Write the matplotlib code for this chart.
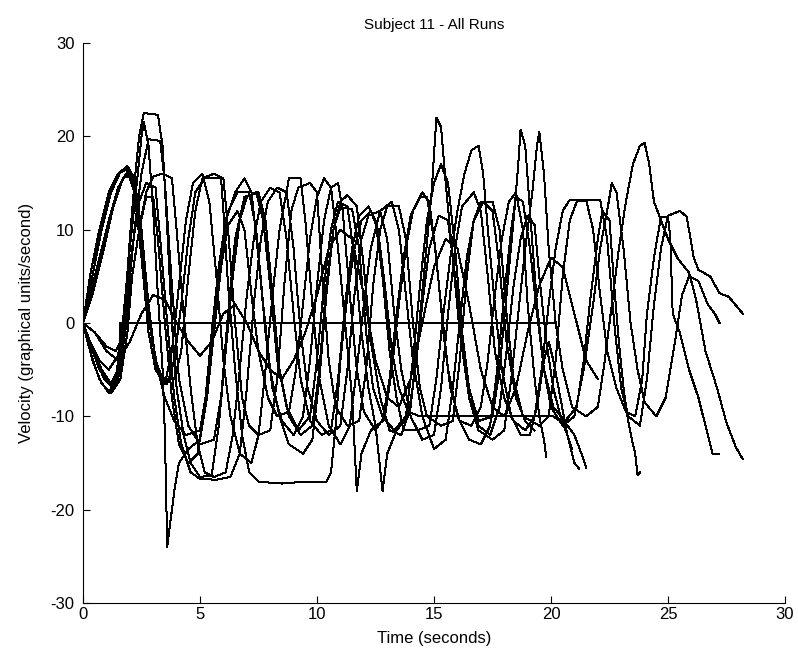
import matplotlib
matplotlib.use("Agg")
import matplotlib.pyplot as plt

# Velocity traces, one list of (time s, velocity) samples per run
run1 = [(0, 0), (0.3, 5), (0.7, 10), (1.1, 14), (1.5, 16), (1.9, 16.5), (2.2, 15), (2.5, 9), (2.8, 1),
        (3.1, -4), (3.4, -6), (3.9, -6), (4.2, -3), (4.5, 5), (4.8, 12), (5.1, 15.5), (5.6, 16), (6.0, 15.5),
        (6.2, 10), (6.5, 0), (6.8, -8), (7.1, -11), (7.5, -12), (8.0, -11.5), (8.3, -6), (8.6, 4), (8.9, 12),
        (9.2, 14.5), (9.7, 15), (10.0, 14), (10.2, 6), (10.5, -4), (10.8, -9), (11.3, -11), (11.8, -10.5),
        (12.1, -5), (12.4, 4), (12.7, 10), (13.0, 12.5), (13.5, 12.5), (13.8, 9), (14.1, 0), (14.4, -7),
        (14.7, -10), (15.3, -11), (15.8, -10.5), (16.1, -4), (16.4, 5), (16.7, 11), (17.0, 13), (17.5, 13),
        (17.8, 10), (18.1, 1), (18.4, -6), (18.8, -10), (19.5, -11), (19.9, -10), (20.2, -4), (20.5, 5),
        (20.8, 11), (21.1, 13), (21.6, 13.2), (22.1, 13.2), (22.4, 9), (22.7, 0), (23.0, -7), (23.3, -10),
        (23.8, -11), (24.1, -6), (24.4, 2), (24.7, 8), (25.0, 11.5), (25.5, 12), (25.8, 11.4), (26.1, 7),
        (26.3, 5.7), (26.8, 5), (27.2, 3.2), (27.6, 2.8), (28.2, 1)]

run2 = [(0, 0), (0.4, -3), (0.9, -6), (1.3, -7), (1.6, -5), (1.9, 2), (2.2, 10), (2.5, 16), (2.8, 19.7),
        (3.3, 19.5), (3.5, 15), (3.8, 4), (4.1, -6), (4.5, -11), (5.0, -13), (5.6, -12.5), (5.9, -8), (6.2, 1),
        (6.5, 9), (6.9, 13.5), (7.5, 14), (7.8, 11), (8.1, 3), (8.4, -5), (8.8, -10), (9.3, -12), (9.8, -11),
        (10.1, -5), (10.4, 4), (10.7, 10), (11.0, 12.4), (11.5, 12.2), (11.8, 8), (12.1, -1), (12.4, -7),
        (12.8, -10), (13.3, -11.5), (13.8, -10), (14.1, -4), (14.4, 4), (14.7, 11), (15.0, 15), (15.3, 17),
        (15.6, 15), (15.9, 8), (16.2, -1), (16.5, -7), (16.9, -10.5), (17.5, -10), (17.8, -5), (18.1, 3),
        (18.4, 11), (18.6, 17), (18.7, 20.7), (18.9, 19), (19.1, 12), (19.4, 2), (19.7, -5), (20.0, -9),
        (20.5, -11), (21.0, -10), (21.4, -5), (21.8, 2), (22.1, 8), (22.4, 12), (22.6, 15), (22.8, 14),
        (23.1, 8), (23.4, 0), (23.7, -5), (24.0, -8.5), (24.5, -10), (24.9, -8), (25.3, -2), (25.6, 3),
        (25.9, 5), (26.3, 4.5), (26.7, 2), (27.0, 1), (27.2, 0)]

run3 = [(0, 0), (0.3, -2), (0.8, -5), (1.2, -6.5), (1.5, -5), (1.8, 1), (2.1, 8), (2.4, 13), (2.7, 15),
        (3.1, 14.5), (3.3, 9), (3.6, 0), (3.9, -8), (4.2, -13), (4.6, -16), (5.0, -16.7), (5.7, -16.8),
        (6.3, -16.5), (6.7, -14), (7.0, -7), (7.3, 2), (7.6, 9), (7.9, 13), (8.3, 14.5), (8.7, 14), (9.0, 8),
        (9.3, -1), (9.6, -7), (10.0, -10.5), (10.5, -12), (11.0, -11), (11.3, -5), (11.6, 3), (11.9, 9),
        (12.2, 11.5), (12.7, 12), (13.0, 9), (13.3, 1), (13.6, -5), (14.0, -10), (14.5, -12.5), (15.0, -12),
        (15.3, -7), (15.6, 1), (15.9, 8), (16.2, 12.5), (16.7, 14), (17.0, 12), (17.3, 5), (17.6, -3),
        (18.0, -8), (18.4, -10.5), (18.9, -11.5), (19.3, -10), (19.6, -5), (19.9, 2), (20.2, 8), (20.5, 12),
        (20.8, 13.2), (21.5, 13.2), (21.8, 10), (22.1, 3), (22.4, -3), (22.8, -7), (23.2, -9.5), (23.6, -10),
        (23.9, -6), (24.1, 1), (24.4, 7), (24.7, 11.4), (25.0, 11.4), (25.1, 9), (25.2, 1), (25.5, -1),
        (25.9, -5), (26.3, -8), (26.6, -11), (26.9, -14), (27.2, -14)]

run4 = [(0, 0), (0.4, 5), (0.8, 10), (1.2, 14), (1.6, 16.2), (1.9, 16.8), (2.2, 15.5), (2.5, 10), (2.8, 2),
        (3.1, -4), (3.5, -8), (3.9, -10.5), (4.4, -12), (5.0, -11.5), (5.3, -7), (5.6, 0), (5.9, 7), (6.2, 12),
        (6.6, 14), (7.1, 14), (7.4, 10), (7.7, 2), (8.0, -5), (8.4, -10), (8.8, -13), (9.4, -14), (9.8, -12.5),
        (10.1, -6), (10.4, 3), (10.7, 10), (11.0, 13), (11.3, 13.7), (11.7, 12.5), (12.0, 6), (12.3, -2),
        (12.7, -8), (13.1, -11.5), (13.6, -12), (14.0, -9), (14.3, -2), (14.6, 6), (14.9, 14), (15.1, 22),
        (15.3, 21), (15.5, 15), (15.8, 7), (16.1, -1), (16.5, -8), (16.9, -11.5), (17.5, -12.5), (18.0, -11.5),
        (18.3, -6), (18.6, 1), (18.9, 8), (19.2, 14), (19.4, 19), (19.5, 20.5), (19.7, 16), (19.9, 8),
        (20.2, 0), (20.5, -5), (20.9, -9), (21.5, -10), (22.0, -9), (22.3, -4), (22.6, 2), (22.9, 8),
        (23.2, 13), (23.5, 17), (23.8, 19), (24.0, 19.3), (24.2, 17), (24.4, 13), (24.7, 11), (25.0, 9),
        (25.4, 7), (25.7, 6), (25.9, 5.4), (26.2, 2.5), (26.6, -3), (27.1, -7), (27.5, -10.7), (27.9, -13.3),
        (28.2, -14.6)]

run5 = [(0, 0), (0.3, -3), (0.7, -6), (1.1, -7.5), (1.4, -6), (1.7, 0), (2.0, 8), (2.3, 15), (2.5, 20),
        (2.6, 21.5), (2.8, 19), (3.0, 12), (3.2, 3), (3.4, -5), (3.5, -12), (3.6, -24), (3.7, -22), (3.9, -18),
        (4.1, -15), (4.5, -13.5), (5.0, -12.5), (5.3, -8), (5.6, -1), (5.9, 6), (6.2, 10.5), (6.6, 12),
        (6.9, 10), (7.2, 3), (7.5, -3), (7.9, -8), (8.3, -10), (8.8, -9.5), (9.1, -5), (9.4, 2), (9.7, 9),
        (10.0, 13.5), (10.3, 15.5), (10.6, 14.5), (10.9, 8), (11.2, 0), (11.5, -8), (11.7, -18), (11.9, -14),
        (12.3, -11.5), (12.8, -10.5), (13.1, -6), (13.4, 1), (13.7, 7), (14.0, 11.5), (14.4, 13.5),
        (14.7, 13.5), (15.0, 9), (15.3, 2), (15.6, -5), (16.0, -10), (16.5, -12.5), (17.0, -13), (17.4, -11),
        (17.7, -5), (18.0, 3), (18.3, 10), (18.5, 13.5), (18.8, 13), (19.1, 8), (19.4, 1), (19.7, -5),
        (20.1, -9), (20.6, -10.5), (21.1, -9), (21.4, -4), (21.7, 3), (22.0, 9), (22.2, 12), (22.5, 11),
        (22.7, 4), (22.9, -2), (23.1, -7), (23.3, -10.5), (23.5, -13), (23.6, -14), (23.7, -16.3), (23.8, -16)]

run6 = [(0, 0), (0.4, 3), (0.9, 8), (1.3, 12.5), (1.7, 15.5), (2.0, 15.8), (2.3, 13), (2.6, 6), (2.9, -1),
        (3.2, -5), (3.6, -6.5), (3.9, -4), (4.2, 2), (4.5, 9), (4.8, 14), (5.2, 15.5), (5.9, 15.5), (6.0, 12),
        (6.2, 4), (6.5, -5), (6.8, -12), (7.1, -16), (7.5, -17), (8.5, -17.2), (9.5, -17), (10.4, -17),
        (10.6, -16), (10.8, -11), (11.0, -4), (11.3, 3), (11.6, 8), (11.9, 11), (12.3, 12), (12.6, 10),
        (12.9, 4), (13.2, -3), (13.5, -7), (13.9, -9.5), (14.4, -10), (16.0, -10), (17.5, -10), (19.0, -10),
        (20.1, -10), (20.4, -10.5), (20.7, -11), (21.0, -12), (21.3, -14), (21.5, -15.5)]

run7 = [(0, 0), (0.3, -2), (0.7, -5), (1.1, -6.5), (1.5, -6), (1.8, -1), (2.1, 5), (2.4, 10), (2.7, 14),
        (3.0, 15.7), (3.4, 16), (3.8, 15.5), (4.0, 10), (4.3, 1), (4.6, -7), (4.9, -13), (5.2, -16),
        (5.6, -16.5), (6.1, -16), (6.4, -12), (6.7, -5), (7.0, 3), (7.3, 9), (7.6, 13), (8.0, 14.5), (8.4, 14),
        (8.7, 9), (9.0, 1), (9.3, -6), (9.7, -10.5), (10.2, -12), (10.6, -11.5), (10.9, -6), (11.2, 2),
        (11.5, 8), (11.8, 11.5), (12.2, 12.5), (12.5, 11), (12.8, 5), (13.1, -3), (13.4, -8), (13.7, -11.5),
        (14.3, -11.5), (14.8, -11), (15.1, -6), (15.4, 1), (15.7, 7), (16.0, 12), (16.3, 16), (16.6, 18.5),
        (16.9, 19), (17.1, 16), (17.3, 10), (17.6, 2), (17.9, -5), (18.3, -10), (18.7, -12), (19.1, -12),
        (19.4, -9), (19.7, -4), (19.9, -2), (20.1, -4), (20.4, -8), (20.7, -12), (21.0, -15), (21.2, -15.6)]

run8 = [(0, 0), (0.4, -4), (0.8, -6.5), (1.2, -7.5), (1.6, -6), (1.9, -1), (2.1, 5), (2.4, 10), (2.7, 13.5),
        (3.0, 13.5), (3.2, 9), (3.5, 0), (3.8, -8), (4.1, -13), (4.5, -15), (4.9, -14), (5.2, -9), (5.5, -1),
        (5.8, 6), (6.1, 11), (6.5, 14), (6.9, 15.5), (7.2, 14), (7.5, 7), (7.8, -1), (8.1, -7), (8.5, -10.5),
        (9.0, -12), (9.4, -10), (9.7, -4), (10.0, 4), (10.3, 11), (10.6, 14.5), (10.9, 15), (11.1, 12),
        (11.4, 3), (11.7, -5), (12.0, -9.5), (12.5, -11.5), (12.9, -10), (13.2, -5), (13.5, 2), (13.8, 8),
        (14.1, 12), (14.5, 14), (14.8, 13), (15.1, 7), (15.4, -1), (15.7, -7), (16.1, -10.5), (16.6, -11),
        (17.0, -9), (17.3, -4), (17.6, 3), (17.9, 9), (18.2, 13), (18.5, 14), (18.8, 10), (19.0, 2),
        (19.3, -6), (19.5, -10), (19.7, -12.5), (19.8, -14.4)]

run9 = [(0, 0), (0.5, -1), (1.0, -2.5), (1.4, -3), (1.6, -2), (1.6, 0), (20.2, 0)]

run10 = [(0, 0), (0.3, 3), (0.7, 7), (1.1, 11), (1.5, 14.5), (1.9, 16.2), (2.2, 14), (2.5, 7), (2.8, -1),
         (3.1, -5), (3.5, -6.5), (3.8, -3), (4.1, 4), (4.4, 11), (4.7, 15), (5.1, 16), (5.4, 13), (5.7, 5),
         (6.0, -4), (6.3, -10), (6.7, -14), (7.2, -15), (7.5, -12), (7.8, -5), (8.1, 3), (8.4, 10),
         (8.8, 15.5), (9.3, 15.5), (9.5, 11), (9.8, 2), (10.1, -6), (10.5, -11), (11.0, -13), (11.4, -11),
         (11.7, -5), (12.0, 2), (12.3, 8), (12.7, 12), (13.2, 13), (13.5, 10), (13.8, 3), (14.1, -4),
         (14.5, -10), (15.0, -13.5), (15.5, -12.5), (15.8, -7), (16.1, 0), (16.4, 7), (16.7, 11), (17.1, 13),
         (17.5, 12), (17.8, 6), (18.1, -2), (18.5, -8), (18.9, -10.5), (19.3, -11.5)]

run11 = [(0, 0), (0.3, -2), (0.7, -4), (1.1, -5), (1.5, -3.5), (1.8, 2), (2.0, 9), (2.2, 15), (2.4, 20),
         (2.6, 22.5), (3.2, 22.3), (3.4, 19), (3.6, 10), (3.8, 0), (4.0, -7), (4.3, -12), (4.6, -15),
         (5.0, -16.5), (5.5, -16.3), (5.8, -11), (6.1, -3), (6.4, 5), (6.7, 11), (7.0, 13.5), (7.4, 14),
         (7.7, 11), (8.0, 4), (8.3, -4), (8.7, -9), (9.2, -11.5), (9.7, -10), (10.0, -4), (10.3, 4), (10.6, 10),
         (10.9, 13), (11.3, 12.5), (11.6, 7), (11.9, -1), (12.2, -7), (12.5, -11), (12.8, -18), (13.0, -14),
         (13.4, -11.5), (13.9, -10), (14.2, -5), (14.5, 2), (14.8, 8), (15.2, 11.5), (15.6, 11), (15.9, 5),
         (16.2, -2), (16.5, -8), (16.9, -11), (17.4, -12), (17.8, -9), (18.1, -3), (18.4, 4), (18.7, 9),
         (19.0, 11.5), (19.3, 10.5), (19.5, 5), (19.8, -2), (20.1, -7), (20.4, -10), (20.7, -12), (20.9, -13.5)]

run12 = [(0, 0), (0.5, -1), (1.0, -3), (1.5, -4), (2.0, -2), (2.5, 1), (3.0, 3), (3.5, 2.5), (4.0, 0),
         (4.5, -2), (5.0, -3.5), (5.5, -2), (6.0, 1), (6.5, 2), (7.0, 0), (7.5, -3), (8.0, -5), (8.5, -6),
         (9.0, -4), (9.5, -1), (10.0, 3), (10.5, 8), (11.0, 10), (11.5, 9), (12.0, 3), (12.5, -4), (13.0, -8),
         (13.5, -9), (14.0, -6), (14.5, 0), (15.0, 6), (15.5, 9), (16.0, 8), (16.5, 2), (17.0, -5), (17.5, -9),
         (18.0, -10), (18.5, -7), (19.0, -1), (19.5, 4), (20.0, 7), (20.5, 6), (21.0, 1), (21.5, -4),
         (22.0, -6)]

runs = [run1, run2, run3, run4, run5, run6, run7, run8, run9, run10, run11, run12]

x_ticks = [0, 5, 10, 15, 20, 25, 30]
y_ticks = [-30, -20, -10, 0, 10, 20, 30]

plt.rcParams["font.family"] = ["Liberation Sans", "DejaVu Sans"]
plt.rcParams["axes.unicode_minus"] = False

fig = plt.figure(figsize=(7.98, 6.56), dpi=100)
ax = fig.add_axes([83 / 798, 53 / 656, 702 / 798, 560 / 656])

for run in runs:
    t = [p[0] for p in run]
    v = [p[1] for p in run]
    ax.plot(t, v, color="black", linewidth=0.72, antialiased=False)

ax.set_xlim(0, 30)
ax.set_ylim(-30, 30)
ax.set_xticks(x_ticks)
ax.set_yticks(y_ticks)
ax.tick_params(direction="in", length=5, width=0.8, labelsize=12, pad=3)
ax.tick_params(axis="y", pad=6)
for side in ("top", "right"):
    ax.spines[side].set_visible(False)
for side in ("left", "bottom"):
    ax.spines[side].set_linewidth(0.8)

ax.set_title("Subject 11 - All Runs", fontsize=11, pad=10)
ax.set_xlabel("Time (seconds)", fontsize=12, labelpad=6)
ax.set_ylabel("Velocity (graphical units/second)", fontsize=12, labelpad=12)

fig.savefig("out.png", dpi=100, facecolor="white")
